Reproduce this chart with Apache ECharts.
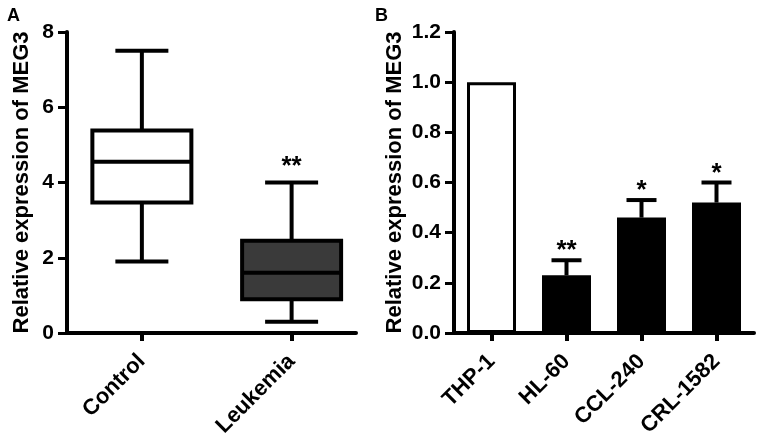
<!DOCTYPE html>
<html>
<head>
<meta charset="utf-8">
<script src="https://cdn.jsdelivr.net/npm/echarts@6/dist/echarts.min.js"></script>
<style>html,body{margin:0;padding:0;background:#fff}#c{width:757px;height:438px}</style>
</head>
<body>
<div id="c"></div>
<script>
// Panel A: box plot
const groupsA = ['Control', 'Leukemia'];
const minA = [1.9, 0.3];
const q1A = [3.47, 0.9];
const medA = [4.55, 1.6];
const q3A = [5.38, 2.45];
const maxA = [7.5, 4.0];
const sigA = ['', '**'];
const yTicksA = [0, 2, 4, 6, 8];

// Panel B: bar chart with SEM
const cellsB = ['THP-1', 'HL-60', 'CCL-240', 'CRL-1582'];
const meanB = [1.0, 0.23, 0.46, 0.52];
const errB = [0, 0.06, 0.07, 0.08];
const sigB = ['', '**', '*', '*'];
const yTicksB = [0.0, 0.2, 0.4, 0.6, 0.8, 1.0, 1.2];

const FONT = 'Arial, "Liberation Sans", Helvetica, sans-serif';
const boxFills = ['#ffffff', '#3a3a3a'];
const barFills = ['#ffffff', '#000000', '#000000', '#000000'];

const chart = echarts.init(document.getElementById('c'), null, {renderer: 'canvas'});

const boxData = groupsA.map((g, i) => [i + 1, minA[i], q1A[i], medA[i], q3A[i], maxA[i]]);
const errData = cellsB.map((c, i) => [i, meanB[i], errB[i]]);

function renderBox(params, api) {
  const x = api.value(0);
  const lo = api.coord([x, api.value(1)]);
  const q1 = api.coord([x, api.value(2)]);
  const md = api.coord([x, api.value(3)]);
  const q3 = api.coord([x, api.value(4)]);
  const hi = api.coord([x, api.value(5)]);
  const cx = lo[0];
  const bw = 99, cw = 53;
  const ls = {stroke: '#000', lineWidth: 4};
  const i = params.dataIndex;
  return {
    type: 'group',
    children: [
      {type: 'line', shape: {x1: cx, y1: hi[1], x2: cx, y2: q3[1]}, style: ls},
      {type: 'line', shape: {x1: cx, y1: q1[1], x2: cx, y2: lo[1]}, style: ls},
      {type: 'line', shape: {x1: cx - cw / 2, y1: hi[1], x2: cx + cw / 2, y2: hi[1]}, style: ls},
      {type: 'line', shape: {x1: cx - cw / 2, y1: lo[1], x2: cx + cw / 2, y2: lo[1]}, style: ls},
      {type: 'rect', shape: {x: cx - bw / 2, y: q3[1], width: bw, height: q1[1] - q3[1]},
        style: {fill: boxFills[i], stroke: '#000', lineWidth: 4}},
      {type: 'line', shape: {x1: cx - bw / 2, y1: md[1], x2: cx + bw / 2, y2: md[1]}, style: ls},
      {type: 'text', x: cx, y: hi[1] - 16,
        style: {text: sigA[i], fill: '#000', font: 'bold 26px ' + FONT, align: 'center', verticalAlign: 'middle'}}
    ]
  };
}

function renderErr(params, api) {
  const i = api.value(0);
  const top = api.coord([i, api.value(1) + api.value(2)]);
  const base = api.coord([i, api.value(1)]);
  const cx = base[0];
  const cw = 30;
  const ls = {stroke: '#000', lineWidth: 4};
  const children = [];
  if (api.value(2) > 0) {
    children.push({type: 'line', shape: {x1: cx, y1: top[1], x2: cx, y2: base[1]}, style: ls});
    children.push({type: 'line', shape: {x1: cx - cw / 2, y1: top[1], x2: cx + cw / 2, y2: top[1]}, style: ls});
  }
  children.push({type: 'text', x: cx, y: top[1] - 9,
    style: {text: sigB[params.dataIndex], fill: '#000', font: 'bold 26px ' + FONT, align: 'center', verticalAlign: 'middle'}});
  return {type: 'group', children};
}

const axisLineStyle = {color: '#000', width: 4};
const tickLabelStyle = {color: '#000', fontSize: 21, fontWeight: 'bold', fontFamily: FONT};
const catLabelStyle = {color: '#000', fontSize: 22, fontWeight: 'bold', fontFamily: FONT};
const nameStyle = {color: '#000', fontSize: 22, fontWeight: 'bold', fontFamily: FONT};

chart.setOption({
  animation: false,
  backgroundColor: '#fff',
  title: [
    {text: 'A', left: 2, top: 2, textStyle: {fontSize: 18, fontWeight: 'bold', fontFamily: FONT, color: '#000'}},
    {text: 'B', left: 370, top: 2, textStyle: {fontSize: 18, fontWeight: 'bold', fontFamily: FONT, color: '#000'}}
  ],
  grid: [
    {left: 67, top: 32, width: 289, height: 301, outerBoundsMode: 'none', containLabel: false},
    {left: 454, top: 32, width: 300, height: 301, outerBoundsMode: 'none', containLabel: false}
  ],
  xAxis: [
    {
      gridIndex: 0, type: 'value', min: 0.5, max: 2.43,
      splitLine: {show: false},
      axisLine: {show: true, onZero: false, lineStyle: axisLineStyle},
      axisTick: {show: true, length: 8, lineStyle: {color: '#000', width: 4}, customValues: [1, 2]},
      axisLabel: Object.assign({rotate: 45, margin: 25, customValues: [1, 2],
        formatter: v => groupsA[Math.round(v) - 1] || ''}, catLabelStyle)
    },
    {
      gridIndex: 1, type: 'category', data: cellsB,
      axisLine: {show: true, onZero: false, lineStyle: axisLineStyle},
      axisTick: {show: true, alignWithLabel: true, length: 8, lineStyle: {color: '#000', width: 4}},
      axisLabel: Object.assign({rotate: 45, margin: 25, interval: 0}, catLabelStyle)
    }
  ],
  yAxis: [
    {
      gridIndex: 0, type: 'value', min: yTicksA[0], max: yTicksA[yTicksA.length - 1], interval: 2,
      splitLine: {show: false},
      axisLine: {show: true, onZero: false, lineStyle: axisLineStyle},
      axisTick: {show: true, length: 9, lineStyle: {color: '#000', width: 3}},
      axisLabel: Object.assign({margin: 13}, tickLabelStyle),
      name: 'Relative expression of MEG3', nameLocation: 'middle', nameGap: 34,
      nameTextStyle: nameStyle
    },
    {
      gridIndex: 1, type: 'value', min: yTicksB[0], max: yTicksB[yTicksB.length - 1], interval: 0.2,
      splitLine: {show: false},
      axisLine: {show: true, onZero: false, lineStyle: axisLineStyle},
      axisTick: {show: true, length: 9, lineStyle: {color: '#000', width: 3}},
      axisLabel: Object.assign({margin: 13, formatter: v => v.toFixed(1)}, tickLabelStyle),
      name: 'Relative expression of MEG3', nameLocation: 'middle', nameGap: 48,
      nameTextStyle: nameStyle
    }
  ],
  series: [
    {type: 'custom', xAxisIndex: 0, yAxisIndex: 0, renderItem: renderBox, data: boxData, z: 5},
    {
      type: 'bar', xAxisIndex: 1, yAxisIndex: 1, barWidth: 49,
      data: meanB.map((v, i) => ({value: v, itemStyle: {color: barFills[i], borderColor: '#000', borderWidth: 3}})),
      z: 3
    },
    {type: 'custom', xAxisIndex: 1, yAxisIndex: 1, renderItem: renderErr, data: errData, z: 4}
  ]
});
</script>
</body>
</html>
